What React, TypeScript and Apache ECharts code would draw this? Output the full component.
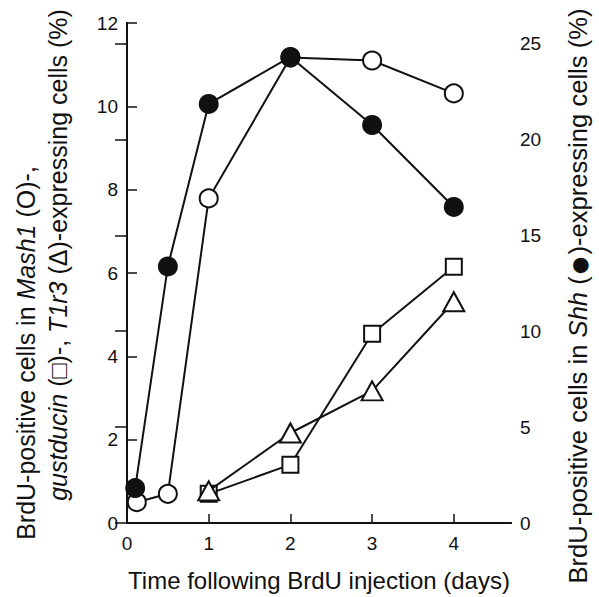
import React, { useEffect, useRef } from "react";
import * as echarts from "echarts";

const FONT = "'Liberation Sans', Arial, Helvetica, sans-serif";

// x = days after BrdU injection
const shhData: number[][] = [
  [0.1, 1.82], [0.5, 13.38], [1, 21.85], [2, 24.3], [3, 20.75], [4, 16.48],
];
const mash1Data: number[][] = [
  [0.12, 0.5], [0.5, 0.7], [1, 7.79], [2, 11.17], [3, 11.1], [4, 10.31],
];
const gustducinData: number[][] = [
  [1, 0.7], [2, 1.4], [3, 4.54], [4, 6.15],
];
const t1r3Data: number[][] = [
  [1, 0.77], [2, 2.16], [3, 3.17], [4, 5.31],
];

export default function App() {
  const ref = useRef<HTMLDivElement>(null);
  useEffect(() => {
    if (!ref.current) return;
    const chart = echarts.init(ref.current, null, { renderer: "svg" });
    const axisLine = { show: true, lineStyle: { color: "#111", width: 2 } };
    const label = { color: "#111", fontSize: 19, fontFamily: FONT };
    const lineStyle = { color: "#111", width: 2 };
    const markerStyle = { color: "#fff", borderColor: "#111", borderWidth: 2 };
    const italic = { fontStyle: "italic", fontSize: 25, fontFamily: FONT, fill: "#111" };
    const textBase = {
      fontSize: 25, fontFamily: FONT, fill: "#111",
      align: "center", verticalAlign: "middle", textAlign: "center", textVerticalAlign: "middle",
    };
    chart.setOption({
      animation: false,
      backgroundColor: "#fff",
      grid: { left: 127, top: 23, right: 88, bottom: 74 },
      xAxis: [
        {
          type: "value", min: 0, max: 4.7, interval: 1,
          axisLine,
          axisTick: { show: true, inside: true, length: 9, lineStyle: { color: "#111", width: 1.5 } },
          splitLine: { show: false },
          axisLabel: { ...label, margin: 11, showMaxLabel: false },
        },
        {
          type: "value", position: "top", min: 0, max: 4.7,
          axisLine, axisTick: { show: false }, axisLabel: { show: false }, splitLine: { show: false },
        },
      ],
      yAxis: [
        {
          type: "value", min: 0, max: 12, interval: 2,
          axisLine,
          axisTick: { show: true, inside: true, length: 10, lineStyle: { color: "#111", width: 1.5 } },
          splitLine: { show: false },
          axisLabel: { ...label, margin: 9 },
        },
        {
          type: "value", position: "right", min: 0, max: 26.07, interval: 5,
          axisLine,
          axisTick: { show: true, inside: true, length: 12, lineStyle: { color: "#111", width: 1.5 } },
          splitLine: { show: false },
          axisLabel: { ...label, margin: 9, showMaxLabel: false },
        },
      ],
      series: [
        {
          type: "line", data: gustducinData, symbol: "rect", symbolSize: 16,
          lineStyle, itemStyle: markerStyle, z: 2,
        },
        {
          type: "line", data: t1r3Data, symbol: "triangle", symbolSize: [21, 19],
          lineStyle, itemStyle: markerStyle, z: 3,
        },
        {
          type: "line", data: mash1Data, symbol: "circle", symbolSize: 18,
          lineStyle, itemStyle: markerStyle, z: 4,
        },
        {
          type: "line", data: shhData, yAxisIndex: 1, symbol: "circle", symbolSize: 20,
          lineStyle, itemStyle: { color: "#111", borderColor: "#111", borderWidth: 0 }, z: 5,
        },
      ],
      graphic: [
        {
          type: "text", x: 319, y: 580,
          style: { ...textBase, fontSize: 24, text: "Time following BrdU injection (days)" },
        },
        {
          type: "text", x: 26, y: 353, rotation: Math.PI / 2,
          style: { ...textBase, text: "BrdU-positive cells in {i|Mash1} (O)-,", rich: { i: italic } },
        },
        {
          type: "text", x: 58, y: 255, rotation: Math.PI / 2,
          style: {
            ...textBase,
            text: "{i|gustducin} (□)-, {i|T1r3} (Δ)-expressing cells (%)",
            rich: { i: italic },
          },
        },
        {
          type: "text", x: 578, y: 296, rotation: Math.PI / 2,
          style: {
            ...textBase,
            fontSize: 25.6,
            text: "BrdU-positive cells in {i|Shh} ({d|●})-expressing cells (%)",
            rich: {
              i: { ...italic, fontSize: 25.6 },
              d: { fontSize: 36, fontFamily: FONT, fill: "#111" },
            },
          },
        },
      ],
    });
    return () => chart.dispose();
  }, []);
  return <div ref={ref} style={{ width: 599, height: 597, position: "absolute", left: 0, top: 0 }} />;
}
